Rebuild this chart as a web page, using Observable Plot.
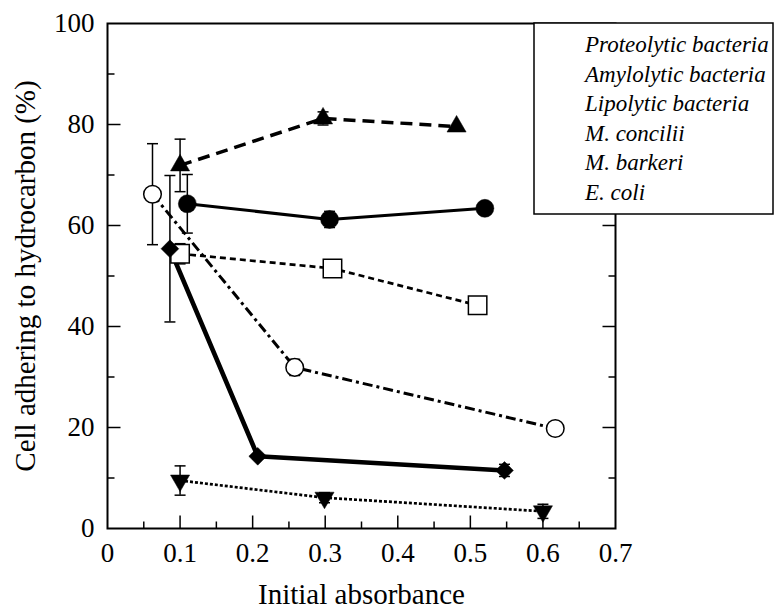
<!DOCTYPE html>
<html>
<head>
<meta charset="utf-8">
<script src="https://cdn.jsdelivr.net/npm/d3@7"></script>
<script src="https://cdn.jsdelivr.net/npm/@observablehq/plot@0.6"></script>
<style>
  html, body { margin: 0; padding: 0; background: #fff; }
  svg { display: block; }
</style>
</head>
<body>
<div id="chart"></div>
<script>
// ---- data ----
const seriesNames = ["Proteolytic bacteria", "Amylolytic bacteria", "Lipolytic bacteria", "M. concilii", "M. barkeri", "E. coli"];
const absorbance = [
  [0.110, 0.306, 0.520],
  [0.100, 0.297, 0.481],
  [0.100, 0.310, 0.510],
  [0.062, 0.258, 0.617],
  [0.086, 0.207, 0.547],
  [0.100, 0.299, 0.600]
];
const adhesion = [
  [64.3, 61.2, 63.4],
  [71.9, 81.2, 79.6],
  [54.4, 51.5, 44.2],
  [66.2, 31.9, 19.8],
  [55.4, 14.3, 11.5],
  [9.5, 6.1, 3.4]
];
const errors = [
  [5.8, 1.6, 0.5],
  [5.2, 1.3, 0],
  [2.0, 0.8, 0.4],
  [10.0, 1.6, 0.4],
  [14.5, 0.5, 1.2],
  [2.9, 1.0, 1.4]
];
const xTicks = [0, 0.1, 0.2, 0.3, 0.4, 0.5, 0.6, 0.7];
const xMinor = [0.05, 0.15, 0.25, 0.35, 0.45, 0.55, 0.65];
const yTicks = [0, 20, 40, 60, 80, 100];
const yMinor = [10, 30, 50, 70, 90];
const xLabel = "Initial absorbance";
const yLabel = "Cell adhering to hydrocarbon (%)";

const serif = "Liberation Serif";
const serifStack = "'Liberation Serif', 'Times New Roman', Tinos, serif";

// ---- styles per series ----
const styles = [
  {symbol: "circle",   r: 9,    fill: "black", dash: null,          width: 3},
  {symbol: "triangle", r: 7.1,  fill: "black", dash: "12,7",        width: 3.5},
  {symbol: "square",   r: 10.4, fill: "white", dash: "6,4",         width: 2.7},
  {symbol: "circle",   r: 8.8,  fill: "white", dash: "10,4,3,4",    width: 3},
  {symbol: "diamond2", r: 8,    fill: "black", dash: null,          width: 4.6},
  {symbol: "triangle", r: 7.1,  fill: "black", dash: "3,2",         width: 2.7, rotate: 180}
];

const rows = [];
seriesNames.forEach((name, s) => {
  absorbance[s].forEach((x, i) => {
    rows.push({series: name, s, x, y: adhesion[s][i], e: errors[s][i]});
  });
});
const errRows = rows.filter(d => d.e > 0);

// custom path symbols
const capSymbol = {draw(ctx) { ctx.moveTo(-5.5, 0); ctx.lineTo(5.5, 0); }};
const tickUp = L => ({draw(ctx) { ctx.moveTo(0, 0); ctx.lineTo(0, -L); }});
const tickRight = L => ({draw(ctx) { ctx.moveTo(0, 0); ctx.lineTo(L, 0); }});
const tickLeft = L => ({draw(ctx) { ctx.moveTo(0, 0); ctx.lineTo(-L, 0); }});

const fmt = d => d === 0 ? "0" : d3.format(".1f")(d);

const marks = [];
// axes ticks (inward)
marks.push(Plot.dot(xTicks.slice(1, -1), {x: d => d, frameAnchor: "bottom", symbol: tickUp(13), fill: "none", stroke: "black", strokeWidth: 1.5}));
marks.push(Plot.dot(xMinor, {x: d => d, frameAnchor: "bottom", symbol: tickUp(7), fill: "none", stroke: "black", strokeWidth: 1.5}));
marks.push(Plot.dot(yTicks.slice(1, -1), {y: d => d, frameAnchor: "left", symbol: tickRight(13), fill: "none", stroke: "black", strokeWidth: 1.5}));
marks.push(Plot.dot(yMinor, {y: d => d, frameAnchor: "left", symbol: tickRight(7), fill: "none", stroke: "black", strokeWidth: 1.5}));
marks.push(Plot.dot(yTicks.slice(1, -1), {y: d => d, frameAnchor: "right", symbol: tickLeft(13), fill: "none", stroke: "black", strokeWidth: 1.5}));
marks.push(Plot.dot(yMinor, {y: d => d, frameAnchor: "right", symbol: tickLeft(7), fill: "none", stroke: "black", strokeWidth: 1.5}));
marks.push(Plot.frame({stroke: "black", strokeWidth: 2}));

// tick labels
marks.push(Plot.axisX(xTicks, {tickSize: 0, tickPadding: 14, tickFormat: fmt, fontSize: 27, fontFamily: serif, fill: "black", label: null}));
marks.push(Plot.axisY(yTicks, {tickSize: 0, tickPadding: 13, tickFormat: d => String(d), fontSize: 27, fontFamily: serif, fill: "black", label: null}));

// axis titles (centred on the frame)
marks.push(Plot.text([xLabel], {frameAnchor: "bottom", dy: 66, textAnchor: "middle", lineAnchor: "middle", text: d => d, fontSize: 29, fontFamily: serif, fill: "black", ariaLabel: "x-title"}));
marks.push(Plot.text([yLabel], {frameAnchor: "left", dx: -82, rotate: -90, textAnchor: "middle", lineAnchor: "middle", text: d => d, fontSize: 29, fontFamily: serif, fill: "black", ariaLabel: "y-title"}));

// lines
seriesNames.forEach((name, s) => {
  const st = styles[s];
  marks.push(Plot.line(rows.filter(d => d.s === s), {
    x: "x", y: "y", stroke: "black", strokeWidth: st.width,
    strokeDasharray: st.dash, strokeLinecap: "butt", strokeLinejoin: "miter"
  }));
});

// error bars
marks.push(Plot.ruleX(errRows, {x: "x", y1: d => d.y - d.e, y2: d => d.y + d.e, stroke: "black", strokeWidth: 1.5}));
marks.push(Plot.dot(errRows, {x: "x", y: d => d.y - d.e, symbol: capSymbol, fill: "none", stroke: "black", strokeWidth: 1.5}));
marks.push(Plot.dot(errRows, {x: "x", y: d => d.y + d.e, symbol: capSymbol, fill: "none", stroke: "black", strokeWidth: 1.5}));

// markers
seriesNames.forEach((name, s) => {
  const st = styles[s];
  marks.push(Plot.dot(rows.filter(d => d.s === s), {
    x: "x", y: "y", symbol: st.symbol, r: st.r, fill: st.fill,
    stroke: "black", strokeWidth: st.fill === "white" ? 1.5 : 0.5,
    rotate: st.rotate || 0
  }));
});

const chart = Plot.plot({
  width: 774,
  height: 610,
  marginLeft: 107,
  marginRight: 159,
  marginTop: 23,
  marginBottom: 82,
  x: {domain: [0, 0.7]},
  y: {domain: [0, 100]},
  style: {background: "white", color: "black"},
  marks
});

// legend box (text only, as in the reference)
const svg = d3.select(chart);
svg.attr("font-family", serifStack);
const lg = svg.append("g").attr("aria-label", "legend").attr("text-anchor", "start");
lg.append("rect").attr("x", 534).attr("y", 23).attr("width", 239).attr("height", 191)
  .attr("fill", "white").attr("stroke", "black").attr("stroke-width", 1.5);
seriesNames.forEach((name, i) => {
  lg.append("text")
    .attr("x", 585).attr("y", 44 + i * 29.5)
    .attr("dy", "0.35em")
    .attr("text-anchor", "start")
    .attr("font-style", "italic")
    .text(name);
});

// enforce fonts on every text element
const sizeFor = {"x-axis tick label": 27, "y-axis tick label": 27, "x-title": 29, "y-title": 29, "legend": 23};
svg.selectAll("text").each(function() {
  const g = this.closest("g[aria-label]");
  const key = g ? g.getAttribute("aria-label") : "";
  this.style.setProperty("font-family", serifStack, "important");
  if (sizeFor[key]) this.style.setProperty("font-size", sizeFor[key] + "px", "important");
  if (key === "legend") this.style.setProperty("font-style", "italic", "important");
});

document.getElementById("chart").appendChild(chart);
</script>
</body>
</html>
